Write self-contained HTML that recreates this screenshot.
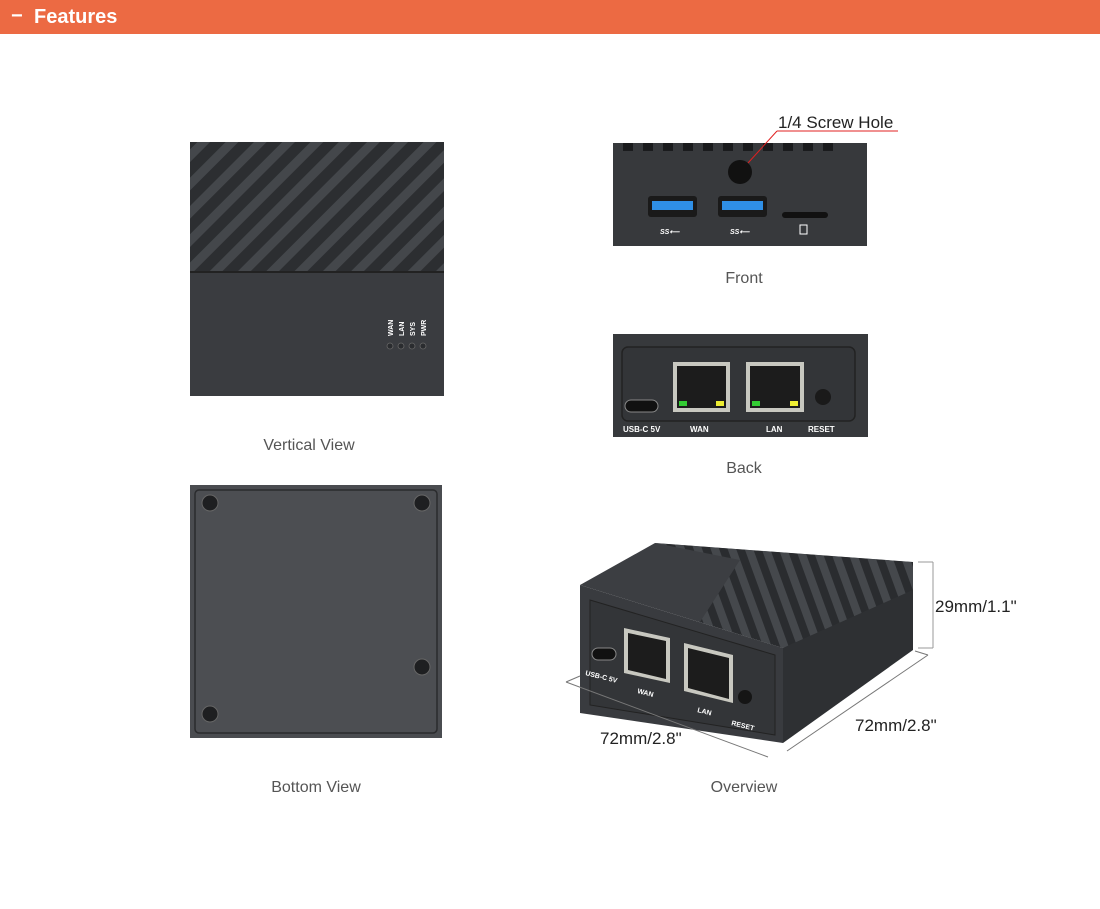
<!DOCTYPE html>
<html><head><meta charset="utf-8"><style>
body{margin:0;background:#fff;width:1100px;height:909px;overflow:hidden;font-family:"Liberation Sans",Arial,sans-serif}
.hd{position:absolute;left:0;top:0;width:1100px;height:34px;background:#EC6A43;color:#fff;font-weight:bold;font-size:20px;line-height:34px}
svg{position:absolute;left:0;top:0}
</style></head><body>
<div class="hd"><span style="position:absolute;left:11px;top:-1px">−</span><span style="position:absolute;left:34px">Features</span></div>
<svg width="1100" height="909" viewBox="0 0 1100 909" font-family="Liberation Sans, Arial, sans-serif">
<defs>
<clipPath id="c1"><rect x="190" y="142" width="254" height="130"/></clipPath>
<clipPath id="c2"><polygon points="655,543 913,562 913,590 783,648 580,585"/></clipPath>
<pattern id="st" width="20" height="20" patternUnits="userSpaceOnUse" patternTransform="rotate(45)">
<rect width="20" height="20" fill="#2c2e31"/><rect width="9" height="20" fill="#44474b"/></pattern>
<pattern id="st2" width="16" height="16" patternUnits="userSpaceOnUse" patternTransform="rotate(-20)">
<rect width="16" height="16" fill="#2a2c2f"/><rect width="8" height="16" fill="#45484c"/></pattern>
</defs>
<!-- Vertical view -->
<rect x="190" y="142" width="254" height="254" fill="#3a3c40"/>
<rect x="190" y="142" width="254" height="130" fill="url(#st)"/>
<rect x="190" y="271" width="254" height="2" fill="#222"/>
<g fill="#fff" font-size="7" font-weight="bold">
<text transform="translate(393,336) rotate(-90)">WAN</text>
<text transform="translate(404,336) rotate(-90)">LAN</text>
<text transform="translate(415,336) rotate(-90)">SYS</text>
<text transform="translate(426,336) rotate(-90)">PWR</text></g>
<g fill="#2a2c2f" stroke="#666" stroke-width="0.8"><circle cx="390" cy="346" r="3"/><circle cx="401" cy="346" r="3"/><circle cx="412" cy="346" r="3"/><circle cx="423" cy="346" r="3"/></g>
<text x="309" y="450" font-size="16" fill="#555" text-anchor="middle">Vertical View</text>
<!-- Front -->
<rect x="613" y="143" width="254" height="103" fill="#37393c"/>
<g fill="#1a1b1d"><rect x="623" y="143" width="10" height="8"/><rect x="643" y="143" width="10" height="8"/><rect x="663" y="143" width="10" height="8"/><rect x="683" y="143" width="10" height="8"/><rect x="703" y="143" width="10" height="8"/><rect x="723" y="143" width="10" height="8"/><rect x="743" y="143" width="10" height="8"/><rect x="763" y="143" width="10" height="8"/><rect x="783" y="143" width="10" height="8"/><rect x="803" y="143" width="10" height="8"/><rect x="823" y="143" width="10" height="8"/></g>
<circle cx="740" cy="172" r="12" fill="#111"/>
<rect x="648" y="196" width="49" height="21" rx="3" fill="#1a1a1a"/><rect x="652" y="201" width="41" height="9" fill="#2f8fe6"/>
<rect x="718" y="196" width="49" height="21" rx="3" fill="#1a1a1a"/><rect x="722" y="201" width="41" height="9" fill="#2f8fe6"/>
<rect x="782" y="212" width="46" height="6" rx="3" fill="#111"/>
<g fill="#fff" font-size="7" font-weight="bold" font-style="italic"><text x="660" y="234">SS⟵</text><text x="730" y="234">SS⟵</text></g>
<rect x="800" y="225" width="7" height="9" fill="none" stroke="#fff"/>
<line x1="777" y1="131" x2="898" y2="131" stroke="#e02020"/><line x1="777" y1="131" x2="748" y2="163" stroke="#e02020"/>
<text x="778" y="128" font-size="17" fill="#222">1/4 Screw Hole</text>
<text x="744" y="283" font-size="16" fill="#555" text-anchor="middle">Front</text>
<!-- Back -->
<rect x="613" y="334" width="255" height="103" fill="#37393c"/>
<rect x="622" y="347" width="233" height="74" rx="6" fill="#333538" stroke="#222" stroke-width="1.5"/>
<rect x="625" y="400" width="33" height="12" rx="6" fill="#111" stroke="#888"/>
<rect x="673" y="362" width="57" height="50" fill="#c8c8c0"/><rect x="677" y="366" width="49" height="42" fill="#1c1c1c"/>
<rect x="746" y="362" width="58" height="50" fill="#c8c8c0"/><rect x="750" y="366" width="50" height="42" fill="#1c1c1c"/>
<g fill="#3c3"><rect x="679" y="401" width="8" height="5"/><rect x="752" y="401" width="8" height="5"/></g>
<g fill="#ee3"><rect x="716" y="401" width="8" height="5"/><rect x="790" y="401" width="8" height="5"/></g>
<circle cx="823" cy="397" r="8" fill="#1a1a1a"/>
<g fill="#fff" font-size="8" font-weight="bold"><text x="623" y="432">USB-C 5V</text><text x="690" y="432">WAN</text><text x="766" y="432">LAN</text><text x="808" y="432">RESET</text></g>
<text x="744" y="473" font-size="16" fill="#555" text-anchor="middle">Back</text>
<!-- Bottom -->
<rect x="190" y="485" width="252" height="253" fill="#4a4c50"/>
<rect x="195" y="490" width="242" height="243" rx="4" fill="#4c4e52" stroke="#2a2b2d" stroke-width="1.5"/>
<g fill="#1e1f21" stroke="#666"><circle cx="210" cy="503" r="8"/><circle cx="422" cy="503" r="8"/><circle cx="422" cy="667" r="8"/><circle cx="210" cy="714" r="8"/></g>
<text x="316" y="792" font-size="16" fill="#555" text-anchor="middle">Bottom View</text>
<!-- Overview -->
<polygon points="783,648 913,562 913,650 783,743" fill="#2e3033"/>
<polygon points="580,585 783,648 783,743 580,713" fill="#393b3f"/>
<polygon points="655,543 913,562 783,648 580,585" fill="#3c3e42"/>
<polygon points="655,543 913,562 913,590 783,648 700,622 740,560" fill="url(#st2)" clip-path="url(#c2)"/>
<polygon points="590,600 775,655 775,735 590,705" fill="#333538" stroke="#222"/>
<rect x="592" y="648" width="24" height="12" rx="6" fill="#111" stroke="#888"/>
<polygon points="624,628 670,638 670,683 624,673" fill="#c8c8c0"/><polygon points="628,633 666,641 666,679 628,670" fill="#1c1c1c"/>
<polygon points="684,643 733,655 733,703 684,691" fill="#c8c8c0"/><polygon points="688,648 729,658 729,699 688,688" fill="#1c1c1c"/>
<circle cx="745" cy="697" r="7" fill="#151515"/>
<g fill="#fff" font-size="7" font-weight="bold"><text x="585" y="675" transform="rotate(14 585 675)">USB-C 5V</text><text x="637" y="693" transform="rotate(14 637 693)">WAN</text><text x="697" y="712" transform="rotate(14 697 712)">LAN</text><text x="731" y="725" transform="rotate(14 731 725)">RESET</text></g>
<line x1="918" y1="562" x2="933" y2="562" stroke="#999"/><line x1="933" y1="562" x2="933" y2="648" stroke="#999"/><line x1="918" y1="648" x2="933" y2="648" stroke="#999"/>
<line x1="566" y1="682" x2="768" y2="757" stroke="#777"/><line x1="566" y1="682" x2="580" y2="676" stroke="#777"/>
<line x1="787" y1="751" x2="928" y2="655" stroke="#777"/><line x1="915" y1="651" x2="928" y2="655" stroke="#777"/>
<text x="935" y="612" font-size="17" fill="#222">29mm/1.1"</text>
<text x="600" y="744" font-size="17" fill="#222">72mm/2.8"</text>
<text x="855" y="731" font-size="17" fill="#222">72mm/2.8"</text>
<text x="744" y="792" font-size="16" fill="#555" text-anchor="middle">Overview</text>
</svg>
</body></html>
